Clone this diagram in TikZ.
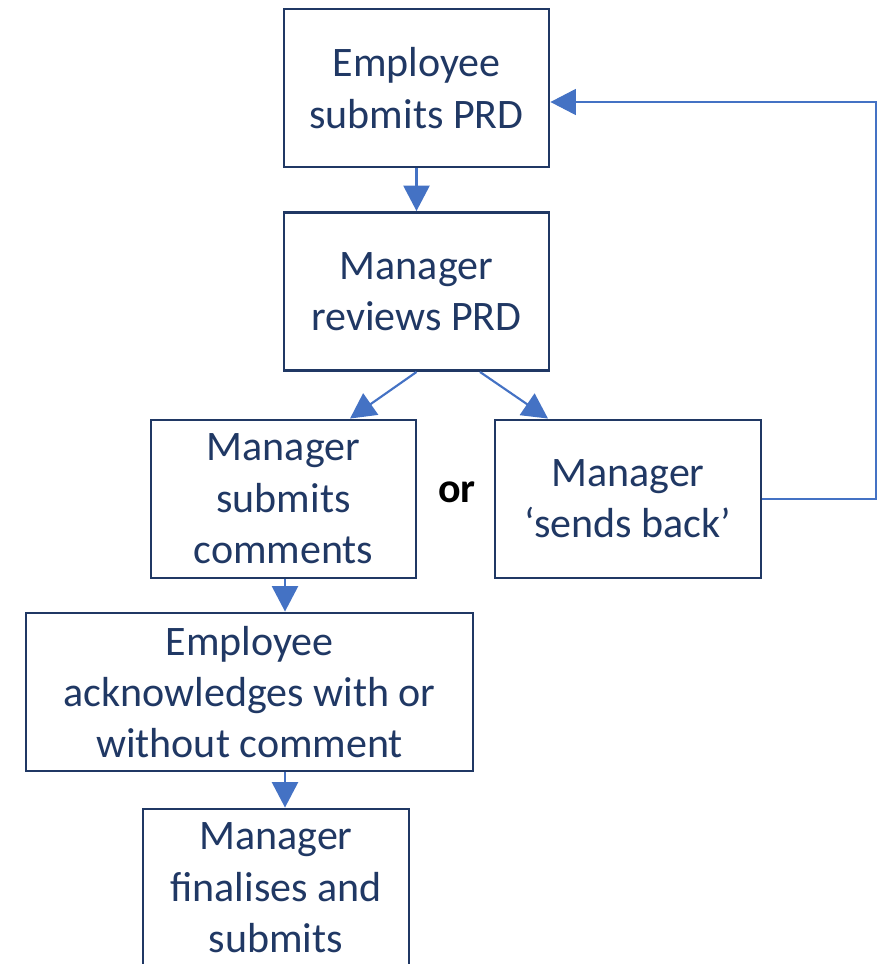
\documentclass[tikz,border=0pt]{standalone}
\usepackage{fontspec}
\setmainfont{Carlito}
\usetikzlibrary{calc,arrows.meta}
\definecolor{boxline}{HTML}{203864}
\definecolor{boxtext}{HTML}{203864}
\definecolor{flow}{HTML}{4472C4}
\begin{document}
\begin{tikzpicture}[x=0.75pt,y=-0.75pt,
  stepbox/.style={draw=boxline,line width=2.2pt,fill=white,align=center,
    text=boxtext,minimum height=118.5pt,inner sep=0pt,
    font=\fontsize{31.5}{38.5}\selectfont},
  flowarrow/.style={draw=flow,line width=1.6pt,
    -{Triangle[length=19pt,width=19.5pt]}},
  backarrow/.style={draw=flow,line width=0.8pt,
    -{Triangle[length=19pt,width=19.5pt]}}]
\useasboundingbox (0,0) rectangle (884,964);
\clip (0,0) rectangle (884,964);

\node[stepbox,minimum width=198.75pt] (b1) at (416.5,88) {Employee\\submits PRD};
\node[stepbox,minimum width=198.75pt] (b2) at (416.5,291.5) {Manager\\reviews PRD};
\node[stepbox,minimum width=198.75pt] (b3) at (283.5,499) {Manager\\submits\\comments};
\node[stepbox,minimum width=199.5pt] (b4) at (628,499) {Manager\\‘sends back’};
\node[stepbox,minimum width=335.25pt] (b5) at (249.5,692) {Employee\\acknowledges with or\\without comment};
\node[stepbox,minimum width=199.5pt] (b6) at (276,888) {Manager\\finalises and\\submits};
\node[font=\fontsize{31.5}{38.5}\selectfont\bfseries] (or) at (457,492) {or};

\coordinate (loopx) at (876,0);
\coordinate (entry) at ($(b1.east)+(0,14)$);

\draw[flowarrow] (b1.south) -- (b2.north);
\draw[flowarrow] (b2.south) -- ($(b3.north)+(66.5,0)$);
\draw[flowarrow] ($(b2.south)+(63.5,0)$) -- ($(b4.north)+(-80,0)$);
\draw[flowarrow] ($(b3.south)+(1.5,0)$) -- ($(b5.north)+(35.5,0)$);
\draw[flowarrow] ($(b5.south)+(35.5,0)$) -- ($(b6.north)+(9,0)$);
\draw[backarrow] (b4.east) -- (b4.east -| loopx) -- (loopx |- entry) -- (entry);
\end{tikzpicture}
\end{document}
